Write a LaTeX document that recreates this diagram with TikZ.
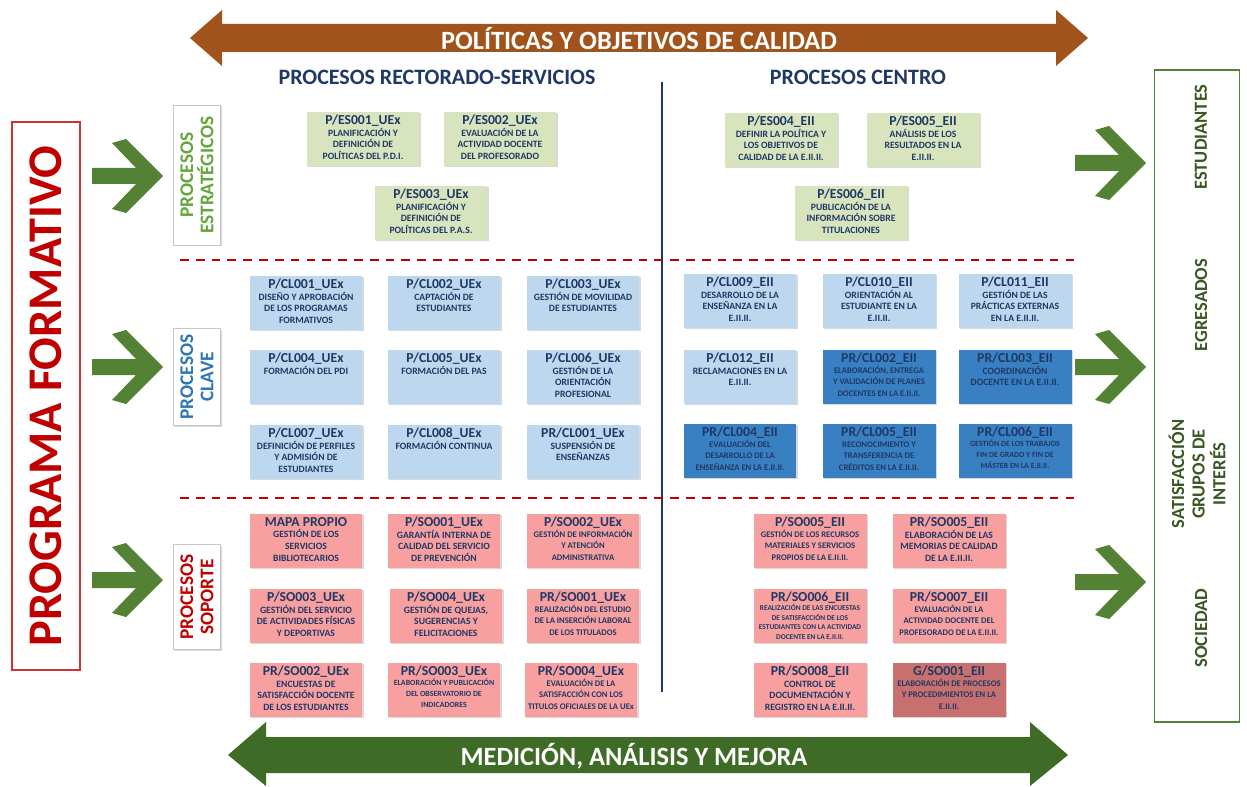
\documentclass[tikz,border=0pt]{standalone}
\usepackage{fontspec}
\setmainfont{Carlito}
\usetikzlibrary{shadows}

\definecolor{navy}{RGB}{31,56,100}
\definecolor{sage}{RGB}{215,228,190}
\definecolor{paleblue}{RGB}{189,215,238}
\definecolor{deepblue}{RGB}{56,128,194}
\definecolor{salmon}{RGB}{248,160,160}
\definecolor{rosewood}{RGB}{200,112,112}
\definecolor{crimson}{RGB}{192,0,0}
\definecolor{leaf}{RGB}{84,130,53}
\definecolor{forest}{RGB}{56,87,35}
\definecolor{moss}{RGB}{62,108,38}
\definecolor{rust}{RGB}{160,84,28}
\definecolor{grass}{RGB}{100,165,60}
\definecolor{cobalt}{RGB}{46,117,182}

\newcommand{\ptit}[1]{{\fontsize{7.8}{8}\selectfont #1}\\[-0.4pt]}

\tikzset{
	probox/.style={fill=sage, inner sep=0pt, text=navy,
		font=\bfseries\fontsize{5.5}{6.8}\selectfont,
		drop shadow={shadow xshift=0.7pt, shadow yshift=-0.7pt, opacity=0.3},
		execute at begin node={\begin{minipage}[t][1.08cm][t]{2.26cm}\centering\vspace*{1.8pt}},
		execute at end node={\end{minipage}}},
	midprint/.style={font=\bfseries\fontsize{4.9}{6.5}\selectfont},
	smallprint/.style={font=\bfseries\fontsize{4.5}{6.2}\selectfont},
	catbox/.style={draw=gray!45, fill=white, rotate=90, align=center, minimum height=0.94cm,
		font=\bfseries\fontsize{11}{11.5}\selectfont,
		drop shadow={shadow xshift=0.7pt, shadow yshift=-0.7pt, opacity=0.3}},
	sidetext/.style={rotate=90, align=center, text=forest, font=\bfseries\fontsize{10.5}{11.7}\selectfont},
	header/.style={text=navy, font=\bfseries\fontsize{12.5}{14}\selectfont},
	bandtext/.style={text=white, font=\bfseries\fontsize{15}{17}\selectfont},
	pics/chevron/.style={code={
		\fill[leaf] (0,-8) -- (44,-8) -- (20,-33) -- (34,-37) -- (71,0) -- (34,37) -- (20,33) -- (44,8) -- (0,8) -- cycle;
	}}
}

\begin{document}
\begin{tikzpicture}[x=0.02cm,y=-0.02cm]
	\useasboundingbox (0,0) rectangle (1247,787);

	% bands
	\fill[rust] (190,38) -- (222,10) -- (222,24) -- (1056,24) -- (1056,10) -- (1088,38) -- (1056,66) -- (1056,52) -- (222,52) -- (222,66) -- cycle;
	\node[bandtext] (politicas) at (639,39) {POLÍTICAS Y OBJETIVOS DE CALIDAD};
	\fill[moss] (228,755) -- (266,722) -- (266,737) -- (1030,737) -- (1030,722) -- (1068,755) -- (1030,786) -- (1030,773) -- (266,773) -- (266,786) -- cycle;
	\node[bandtext] (medicion) at (634,756) {MEDICIÓN, ANÁLISIS Y MEJORA};

	\node[header] (rectorado) at (437,77) {PROCESOS RECTORADO-SERVICIOS};
	\node[header] (centro) at (858,77) {PROCESOS CENTRO};

	\draw[navy, line width=1.2pt] (662,82) -- (662,692);
	\draw[crimson, line width=0.9pt, dash pattern=on 5pt off 4pt] (180,260) -- (1075,260);
	\draw[crimson, line width=0.9pt, dash pattern=on 5pt off 4pt] (180,498) -- (1075,498);

	% left side
	\node[draw=crimson!80, line width=0.8pt, rotate=90, minimum width=10.96cm, minimum height=1.36cm, text=crimson,
		font=\bfseries\fontsize{27.5}{30}\selectfont] (programa) at (46,396) {PROGRAMA FORMATIVO};
	\pic at (92,176) {chevron};
	\pic at (92,367) {chevron};
	\pic at (92,580) {chevron};
	\node[catbox, minimum width=2.8cm, text=grass] (estrategicos) at (197,175) {PROCESOS\\ESTRATÉGICOS};
	\node[catbox, minimum width=1.9cm, text=cobalt] (clave) at (197,377) {PROCESOS\\CLAVE};
	\node[catbox, minimum width=2.1cm, text=crimson] (soporte) at (197,597) {PROCESOS\\SOPORTE};

	% right side
	\pic at (1075,163) {chevron};
	\pic at (1075,367) {chevron};
	\pic at (1075,582) {chevron};
	\node[draw=leaf, line width=0.8pt, minimum width=1.7cm, minimum height=13.04cm] (grupos) at (1197,396) {};
	\node[sidetext] (estudiantes) at (1201,137) {ESTUDIANTES};
	\node[sidetext] (egresados) at (1201,305) {EGRESADOS};
	\node[sidetext] (satisfaccion) at (1197,474) {SATISFACCIÓN\\GRUPOS DE\\INTERÉS};
	\node[sidetext] (sociedad) at (1201,628) {SOCIEDAD};

	% estrategicos
	\node[probox] (es001) at (363,139) {\ptit{P/ES001\_UEx}PLANIFICACIÓN Y\\DEFINICIÓN DE\\POLÍTICAS DEL P.D.I.};
	\node[probox] (es002) at (500,139) {\ptit{P/ES002\_UEx}EVALUACIÓN DE LA\\ACTIVIDAD DOCENTE\\DEL PROFESORADO};
	\node[probox] (es003) at (431,213) {\ptit{P/ES003\_UEx}PLANIFICACIÓN Y\\DEFINICIÓN DE\\POLÍTICAS DEL P.A.S.};
	\node[probox] (es004) at (781,140) {\ptit{P/ES004\_EII}DEFINIR LA POLÍTICA Y\\LOS OBJETIVOS DE\\CALIDAD DE LA E.II.II.};
	\node[probox] (es005) at (923,140) {\ptit{P/ES005\_EII}ANÁLISIS DE LOS\\RESULTADOS EN LA\\E.II.II.};
	\node[probox] (es006) at (851,213) {\ptit{P/ES006\_EII}PUBLICACIÓN DE LA\\INFORMACIÓN SOBRE\\TITULACIONES};

	% clave
	\node[probox, fill=paleblue] (cl001) at (306,303) {\ptit{P/CL001\_UEx}DISEÑO Y APROBACIÓN\\DE LOS PROGRAMAS\\FORMATIVOS};
	\node[probox, fill=paleblue] (cl002) at (444,303) {\ptit{P/CL002\_UEx}CAPTACIÓN DE\\ESTUDIANTES};
	\node[probox, fill=paleblue] (cl003) at (583,303) {\ptit{P/CL003\_UEx}GESTIÓN DE MOVILIDAD\\DE ESTUDIANTES};
	\node[probox, fill=paleblue] (cl004) at (306,377) {\ptit{P/CL004\_UEx}FORMACIÓN DEL PDI};
	\node[probox, fill=paleblue] (cl005) at (444,377) {\ptit{P/CL005\_UEx}FORMACIÓN DEL PAS};
	\node[probox, fill=paleblue] (cl006) at (583,377) {\ptit{P/CL006\_UEx}GESTIÓN DE LA\\ORIENTACIÓN\\PROFESIONAL};
	\node[probox, fill=paleblue] (cl007) at (306,452) {\ptit{P/CL007\_UEx}DEFINICIÓN DE PERFILES\\Y ADMISIÓN DE\\ESTUDIANTES};
	\node[probox, fill=paleblue] (cl008) at (444,452) {\ptit{P/CL008\_UEx}FORMACIÓN CONTINUA};
	\node[probox, fill=paleblue] (prcl001) at (583,452) {\ptit{PR/CL001\_UEx}SUSPENSIÓN DE\\ENSEÑANZAS};
	\node[probox, fill=paleblue] (cl009) at (740,301) {\ptit{P/CL009\_EII}DESARROLLO DE LA\\ENSEÑANZA EN LA\\E.II.II.};
	\node[probox, fill=paleblue] (cl010) at (879,301) {\ptit{P/CL010\_EII}ORIENTACIÓN AL\\ESTUDIANTE EN LA\\E.II.II.};
	\node[probox, fill=paleblue] (cl011) at (1015,301) {\ptit{P/CL011\_EII}GESTIÓN DE LAS\\PRÁCTICAS EXTERNAS\\EN LA E.II.II.};
	\node[probox, fill=paleblue] (cl012) at (740,377) {\ptit{P/CL012\_EII}RECLAMACIONES EN LA\\E.II.II.};
	\node[probox, fill=deepblue, midprint] (prcl002) at (879,377) {\ptit{PR/CL002\_EII}ELABORACIÓN, ENTREGA\\Y VALIDACIÓN DE PLANES\\DOCENTES EN LA E.II.II.};
	\node[probox, fill=deepblue] (prcl003) at (1015,377) {\ptit{PR/CL003\_EII}COORDINACIÓN\\DOCENTE EN LA E.II.II.};
	\node[probox, fill=deepblue, midprint] (prcl004) at (740,451) {\ptit{PR/CL004\_EII}EVALUACIÓN DEL\\DESARROLLO DE LA\\ENSEÑANZA EN LA E.II.II.};
	\node[probox, fill=deepblue, midprint] (prcl005) at (879,451) {\ptit{PR/CL005\_EII}RECONOCIMIENTO Y\\TRANSFERENCIA DE\\CRÉDITOS EN LA E.II.II.};
	\node[probox, fill=deepblue, smallprint] (prcl006) at (1015,451) {\ptit{PR/CL006\_EII}GESTIÓN DE LOS TRABAJOS\\FIN DE GRADO Y FIN DE\\MÁSTER EN LA E.II.II.};

	% soporte
	\node[probox, fill=salmon] (mapa) at (306,541) {\ptit{MAPA PROPIO}GESTIÓN DE LOS\\SERVICIOS\\BIBLIOTECARIOS};
	\node[probox, fill=salmon] (so001) at (444,541) {\ptit{P/SO001\_UEx}GARANTÍA INTERNA DE\\CALIDAD DEL SERVICIO\\DE PREVENCIÓN};
	\node[probox, fill=salmon, midprint] (so002) at (583,541) {\ptit{P/SO002\_UEx}GESTIÓN DE INFORMACIÓN\\Y ATENCIÓN\\ADMINISTRATIVA};
	\node[probox, fill=salmon] (so003) at (306,616) {\ptit{P/SO003\_UEx}GESTIÓN DEL SERVICIO\\DE ACTIVIDADES FÍSICAS\\Y DEPORTIVAS};
	\node[probox, fill=salmon] (so004) at (446,616) {\ptit{P/SO004\_UEx}GESTIÓN DE QUEJAS,\\SUGERENCIAS Y\\FELICITACIONES};
	\node[probox, fill=salmon, midprint] (prso001) at (583,616) {\ptit{PR/SO001\_UEx}REALIZACIÓN DEL ESTUDIO\\DE LA INSERCIÓN LABORAL\\DE LOS TITULADOS};
	\node[probox, fill=salmon] (prso002) at (306,690) {\ptit{PR/SO002\_UEx}ENCUESTAS DE\\SATISFACCIÓN DOCENTE\\DE LOS ESTUDIANTES};
	\node[probox, fill=salmon, smallprint] (prso003) at (444,690) {\ptit{PR/SO003\_UEx}ELABORACIÓN Y PUBLICACIÓN\\DEL OBSERVATORIO DE\\INDICADORES};
	\node[probox, fill=salmon, midprint] (prso004) at (581,690) {\ptit{PR/SO004\_UEx}EVALUACIÓN DE LA\\SATISFACCIÓN CON LOS\\TITULOS OFICIALES DE LA UEx};
	\node[probox, fill=salmon, midprint] (so005) at (810,541) {\ptit{P/SO005\_EII}GESTIÓN DE LOS RECURSOS\\MATERIALES Y SERVICIOS\\PROPIOS DE LA E.II.II.};
	\node[probox, fill=salmon] (prso005) at (949,541) {\ptit{PR/SO005\_EII}ELABORACIÓN DE LAS\\MEMORIAS DE CALIDAD\\DE LA E.II.II.};
	\node[probox, fill=salmon, font=\bfseries\fontsize{4.2}{5.4}\selectfont] (prso006) at (810,616) {\ptit{PR/SO006\_EII}REALIZACIÓN DE LAS ENCUESTAS\\DE SATISFACCIÓN DE LOS\\ESTUDIANTES CON LA ACTIVIDAD\\DOCENTE EN LA E.II.II.};
	\node[probox, fill=salmon, midprint] (prso007) at (949,616) {\ptit{PR/SO007\_EII}EVALUACIÓN DE LA\\ACTIVIDAD DOCENTE DEL\\PROFESORADO DE LA E.II.II.};
	\node[probox, fill=salmon] (prso008) at (810,690) {\ptit{PR/SO008\_EII}CONTROL DE\\DOCUMENTACIÓN Y\\REGISTRO EN LA E.II.II.};
	\node[probox, fill=rosewood, midprint] (gso001) at (949,690) {\ptit{G/SO001\_EII}ELABORACIÓN DE PROCESOS\\Y PROCEDIMIENTOS EN LA\\E.II.II.};
\end{tikzpicture}
\end{document}
